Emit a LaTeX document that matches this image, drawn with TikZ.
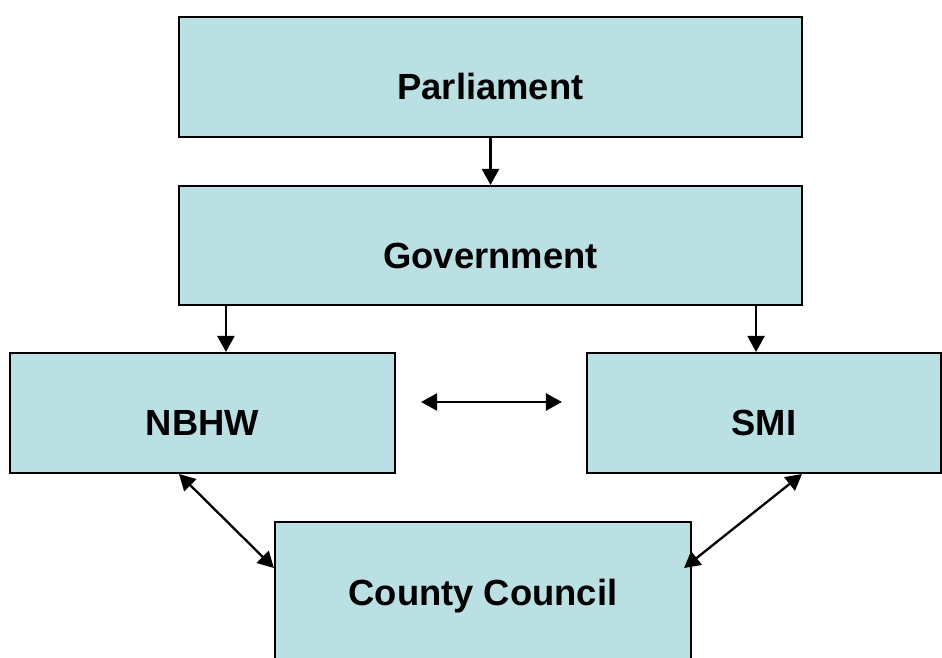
\documentclass[tikz,border=0pt]{standalone}
\usepackage{fontspec}
\setmainfont{Liberation Sans}
\usetikzlibrary{arrows.meta}

\definecolor{boxblue}{RGB}{187,224,227}

\tikzset{
    orgbox/.style={draw, fill=boxblue, line width=1.2pt, inner sep=0pt,
        font=\bfseries\fontsize{20.7}{24}\selectfont,
        text height=26pt, text depth=0pt},
    link/.style={line width=1.3pt, -{Triangle[length=3.2mm,width=3.4mm]}},
    both/.style={line width=1.3pt, {Triangle[length=3.2mm,width=3.4mm]}-{Triangle[length=3.2mm,width=3.4mm]}}
}

\begin{document}
\begin{tikzpicture}

        \useasboundingbox (00.00,00.00) rectangle (18.84,13.16);
        \clip (00.00,00.00) rectangle (18.84,13.16);

        % Parliament
        \node (parl) [orgbox, minimum width=12.46cm, minimum height=2.40cm] at (09.81,11.62) {Parliament};

        % Government
        \node (gov) [orgbox, minimum width=12.46cm, minimum height=2.38cm] at (09.81,08.25) {Government};

        % NBHW
        \node (nbhw) [orgbox, minimum width=7.70cm, minimum height=2.40cm] at (04.05,04.90) {NBHW};

        % SMI
        \node (smi) [orgbox, minimum width=7.08cm, minimum height=2.40cm] at (15.28,04.90) {SMI};

        % County Council
        \node (cc) [orgbox, text height=15pt, minimum width=8.32cm, minimum height=2.80cm] at (09.66,01.32) {County Council};

        % Parliament -> Government
        \draw [link] (parl.south) -- (gov.north);

        % Government -> NBHW, Government -> SMI
        \draw [link] ([xshift=0.96cm]gov.south west) -- ([xshift=0.96cm]gov.south west |- nbhw.north);
        \draw [link] ([xshift=-0.94cm]gov.south east) -- ([xshift=-0.94cm]gov.south east |- smi.north);

        % NBHW <-> SMI
        \draw [both] ([xshift=0.50cm,yshift=0.22cm]nbhw.east) -- ([xshift=-0.48cm,yshift=0.22cm]smi.west);

        % NBHW <-> County Council
        \draw [both] ([xshift=-0.47cm]nbhw.south) -- ([yshift=0.48cm]cc.west);

        % SMI <-> County Council
        \draw [both] ([xshift=0.76cm]smi.south) -- ([xshift=-0.16cm,yshift=0.48cm]cc.east);

    \end{tikzpicture}
\end{document}
